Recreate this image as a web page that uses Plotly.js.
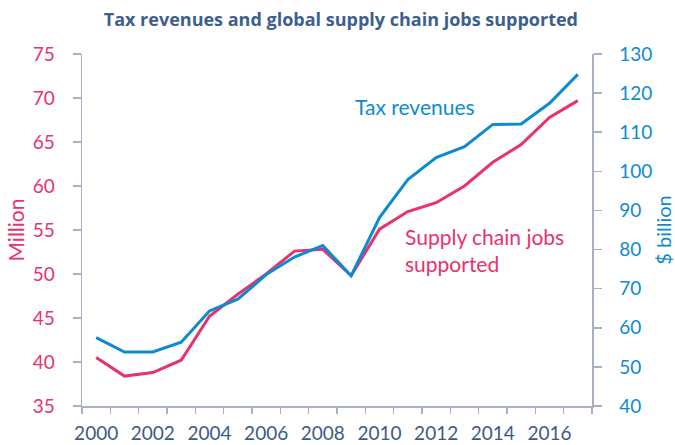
<!DOCTYPE html>
<html>
<head>
<meta charset="utf-8">
<script src="https://cdn.plot.ly/plotly-3.0.1.min.js"></script>
<style>html,body{margin:0;padding:0;background:#fff;}#chart{width:675px;height:445px;}</style>
</head>
<body>
<div id="chart"></div>
<script>
const years = [2000,2001,2002,2003,2004,2005,2006,2007,2008,2009,2010,2011,2012,2013,2014,2015,2016,2017];
const jobsMillion = [40.5,38.4,38.8,40.2,45.2,47.7,50.0,52.6,52.8,49.8,55.1,57.1,58.1,60.0,62.7,64.7,67.8,69.7];
const taxBillion = [57.5,53.8,53.8,56.3,64.3,67.3,73.6,78.1,81.0,73.3,88.2,97.9,103.5,106.3,112.0,112.1,117.4,124.8];
const xTickLabels = [2000,2002,2004,2006,2008,2010,2012,2014,2016];
const leftTicks = [35,40,45,50,55,60,65,70,75];
const rightTicks = [40,50,60,70,80,90,100,110,120,130];

const pink = '#E8326C';
const blue = '#0E8BD0';
const axisCol = '#A7B0C6';
const font = 'Lato, "Open Sans", sans-serif';

const boundaries = [];
for (let i = 0; i <= years.length; i++) boundaries.push(years[0] - 0.5 + i);

const data = [
  {x: years, y: jobsMillion, type: 'scatter', mode: 'lines', yaxis: 'y',
   line: {color: pink, width: 3}, name: 'Supply chain jobs supported', hoverinfo: 'x+y'},
  {x: years, y: taxBillion, type: 'scatter', mode: 'lines', yaxis: 'y2',
   line: {color: blue, width: 3}, name: 'Tax revenues', hoverinfo: 'x+y'}
];

const layout = {
  width: 675, height: 445,
  margin: {l: 82, r: 83, t: 54, b: 39},
  paper_bgcolor: '#fff', plot_bgcolor: '#fff',
  showlegend: false,
  font: {family: font},
  title: {text: '<b>Tax revenues and global supply chain jobs supported</b>',
          font: {family: 'Open Sans, sans-serif', size: 18, color: '#3C5F8E'},
          x: 0.505, xanchor: 'center', y: 0.955, yanchor: 'middle'},
  xaxis: {
    type: 'linear', range: [years[0] - 0.5, years[years.length - 1] + 0.5],
    tickmode: 'array', tickvals: xTickLabels, ticktext: xTickLabels.map(String),
    ticks: 'outside', ticklen: 10, tickcolor: 'rgba(0,0,0,0)', showgrid: false, zeroline: false,
    showline: true, linecolor: axisCol, linewidth: 1.5,
    tickfont: {family: font, size: 19, color: '#3C5A88'},
    minor: {tickmode: 'array', tickvals: boundaries, ticks: 'outside', ticklen: 6, tickwidth: 1.5, tickcolor: axisCol, showgrid: false},
    fixedrange: true
  },
  yaxis: {
    range: [35, 75], tickmode: 'array', tickvals: leftTicks,
    ticks: 'outside', ticklen: 8, tickwidth: 1.5, tickcolor: axisCol,
    ticklabelstandoff: 14,
    showgrid: false, zeroline: false, showline: true, linecolor: axisCol, linewidth: 1.5,
    tickfont: {family: font, size: 19, color: pink},
    title: {text: 'Million', font: {family: font, size: 21, color: pink}, standoff: 2},
    fixedrange: true
  },
  yaxis2: {
    range: [40, 130], tickmode: 'array', tickvals: rightTicks,
    overlaying: 'y', side: 'right',
    ticks: 'outside', ticklen: 8, tickwidth: 1.5, tickcolor: axisCol,
    ticklabelstandoff: 14,
    showgrid: false, zeroline: false, showline: true, linecolor: axisCol, linewidth: 1.5,
    tickfont: {family: font, size: 19, color: blue},
    title: {text: '$ billion', font: {family: font, size: 20, color: blue}, standoff: 8},
    fixedrange: true
  },
  annotations: [
    {text: 'Tax revenues', xref: 'paper', yref: 'paper', x: 0.531, y: 0.85,
     xanchor: 'left', yanchor: 'middle', showarrow: false,
     font: {family: font, size: 21, color: blue}},
    {text: 'Supply chain jobs', xref: 'paper', yref: 'paper', x: 0.629, y: 0.4825,
     xanchor: 'left', yanchor: 'middle', showarrow: false,
     font: {family: font, size: 21, color: pink}},
    {text: 'supported', xref: 'paper', yref: 'paper', x: 0.629, y: 0.4057,
     xanchor: 'left', yanchor: 'middle', showarrow: false,
     font: {family: font, size: 21, color: pink}}
  ]
};

Plotly.newPlot('chart', data, layout, {displayModeBar: false, staticPlot: true});
</script>
</body>
</html>
